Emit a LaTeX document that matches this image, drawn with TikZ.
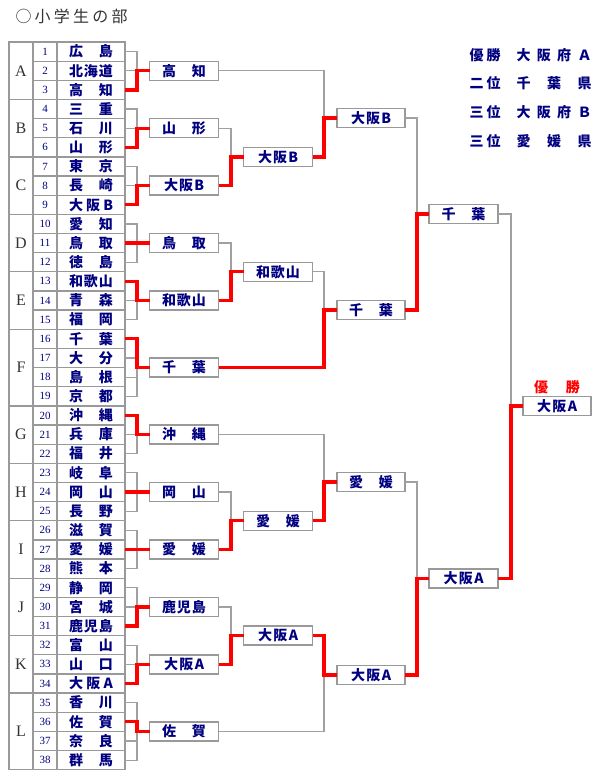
\documentclass[tikz,border=0pt]{standalone}
\usepackage{fontspec}
\setmainfont{Liberation Serif}
\newfontfamily\jp{Noto Sans CJK JP}
\usetikzlibrary{calc}
\definecolor{navy}{HTML}{000080}
\definecolor{cellgray}{HTML}{999999}
\definecolor{linkgray}{HTML}{A0A0A0}
\definecolor{winred}{HTML}{FF0000}
% spread the characters of a name over a fixed width
\newcommand{\nm}[2][44pt]{\makebox[#1][s]{#2}}

\begin{document}
\begin{tikzpicture}[x=1pt, y=-1pt,
    cell/.style={draw=cellgray, line width=1.3pt, inner sep=0pt, outer sep=0pt,
                 minimum height=19.15pt},
    team/.style={cell, minimum width=68pt, text=navy, font=\jp\bfseries\fontsize{14}{14}\selectfont},
    num/.style={cell, minimum width=24pt, text=navy, font=\fontsize{11}{11}\selectfont},
    grp/.style={cell, minimum width=24pt, text=black!80, font=\fontsize{16}{16}\selectfont},
    win/.style={draw=cellgray, line width=1.3pt, fill=white, inner sep=0pt, outer sep=0pt,
                minimum width=69pt, minimum height=19pt, text=navy,
                font=\jp\bfseries\fontsize{14}{14}\selectfont},
    res/.style={anchor=west, text=navy, font=\jp\bfseries\fontsize{14}{14}\selectfont},
    link/.style={draw=linkgray, line width=1.2pt},
    redlink/.style={draw=winred, line width=3.3pt},
  ]
  \useasboundingbox (0,0) rectangle (610,780);
  \fill[white] (0,0) rectangle (610,780);

  % junction columns of the bracket
  \coordinate (j1) at (137,0);
  \coordinate (j2) at (231,0);
  \coordinate (j3) at (324,0);
  \coordinate (j4) at (417,0);
  \coordinate (j5) at (511,0);

  \node[anchor=west, text=black!80, font=\jp\fontsize{16}{16}\selectfont] (title) at (12,16)
    {\nm[112pt]{○\hfil 小\hfil 学\hfil 生\hfil の\hfil 部}};

  % group letters and group winners
  \foreach \g/\a/\b/\w in {A/1/3/{\nm{高\hfil 知}}, B/4/6/{\nm{山\hfil 形}},
      C/7/9/{\nm[40pt]{大\hfil 阪\hfil B}}, D/10/12/{\nm{鳥\hfil 取}},
      E/13/15/{\nm{和\hfil 歌\hfil 山}}, F/16/19/{\nm{千\hfil 葉}},
      G/20/22/{\nm{沖\hfil 縄}}, H/23/25/{\nm{岡\hfil 山}}, I/26/28/{\nm{愛\hfil 媛}},
      J/29/31/{\nm{鹿\hfil 児\hfil 島}}, K/32/34/{\nm[40pt]{大\hfil 阪\hfil A}},
      L/35/38/{\nm{佐\hfil 賀}}} {
    \pgfmathsetmacro\gh{(\b-\a+1)*19.15}
    \pgfmathsetmacro\gy{42+(\a+\b-1)/2*19.15}
    \node[grp, minimum height=\gh pt] (grp\g) at (21,\gy) {\g};
    \node[win] (r1\g) at (184,\gy) {\w};
  }

  % entry table
  \foreach \i/\g/\n in {1/A/{広\hfil 島}, 2/A/{北\hfil 海\hfil 道}, 3/A/{高\hfil 知},
      4/B/{三\hfil 重}, 5/B/{石\hfil 川}, 6/B/{山\hfil 形},
      7/C/{東\hfil 京}, 8/C/{長\hfil 崎}, 9/C/{大\hfil 阪\hfil B},
      10/D/{愛\hfil 知}, 11/D/{鳥\hfil 取}, 12/D/{徳\hfil 島},
      13/E/{和\hfil 歌\hfil 山}, 14/E/{青\hfil 森}, 15/E/{福\hfil 岡},
      16/F/{千\hfil 葉}, 17/F/{大\hfil 分}, 18/F/{島\hfil 根}, 19/F/{京\hfil 都},
      20/G/{沖\hfil 縄}, 21/G/{兵\hfil 庫}, 22/G/{福\hfil 井},
      23/H/{岐\hfil 阜}, 24/H/{岡\hfil 山}, 25/H/{長\hfil 野},
      26/I/{滋\hfil 賀}, 27/I/{愛\hfil 媛}, 28/I/{熊\hfil 本},
      29/J/{静\hfil 岡}, 30/J/{宮\hfil 城}, 31/J/{鹿\hfil 児\hfil 島},
      32/K/{富\hfil 山}, 33/K/{山\hfil 口}, 34/K/{大\hfil 阪\hfil A},
      35/L/{香\hfil 川}, 36/L/{佐\hfil 賀}, 37/L/{奈\hfil 良}, 38/L/{群\hfil 馬}} {
    \node[num] (n\i) at (45,{42+(\i-0.5)*19.15}) {\i};
    \node[team] (t\i) at (91,{42+(\i-0.5)*19.15}) {\nm{\n}};
    \draw[link] (t\i.east) -- (t\i.east -| j1) |- (r1\g.west);
  }

  % later rounds
  \node[win] (bc) at (278,156.9) {\nm[40pt]{大\hfil 阪\hfil B}};
  \node[win] (de) at (278,271.8) {\nm{和\hfil 歌\hfil 山}};
  \node[win] (hi) at (278,520.7) {\nm{愛\hfil 媛}};
  \node[win] (jk) at (278,635.6) {\nm[40pt]{大\hfil 阪\hfil A}};
  \node[win, minimum width=68pt] (top1) at (371,118) {\nm[40pt]{大\hfil 阪\hfil B}};
  \node[win, minimum width=68pt] (top2) at (371,310) {\nm{千\hfil 葉}};
  \node[win, minimum width=68pt] (bot1) at (371,482) {\nm{愛\hfil 媛}};
  \node[win, minimum width=68pt] (bot2) at (371,675) {\nm[40pt]{大\hfil 阪\hfil A}};
  \node[win] (semiT) at (463.5,214) {\nm{千\hfil 葉}};
  \node[win] (semiB) at (463.5,578.5) {\nm[40pt]{大\hfil 阪\hfil A}};
  \node[win, minimum width=68pt] (champ) at (557,406) {\nm[40pt]{大\hfil 阪\hfil A}};
  \node[text=winred, font=\jp\bfseries\fontsize{14}{14}\selectfont] (champlabel) at (557,387)
    {\nm[46pt]{優\hfil 勝}};

  \foreach \a/\b/\j in {r1B/bc/j2, r1C/bc/j2, r1D/de/j2, r1E/de/j2, r1H/hi/j2, r1I/hi/j2,
      r1J/jk/j2, r1K/jk/j2, r1A/top1/j3, bc/top1/j3, de/top2/j3, r1F/top2/j3,
      r1G/bot1/j3, hi/bot1/j3, jk/bot2/j3, r1L/bot2/j3, top1/semiT/j4, top2/semiT/j4,
      bot1/semiB/j4, bot2/semiB/j4, semiT/champ/j5, semiB/champ/j5}
    \draw[link] (\a.east) -- (\a.east -| \j) |- (\b.west);

  % winners' path in red
  \foreach \i/\g in {3/A, 6/B, 9/C, 11/D, 13/E, 16/F, 20/G, 24/H, 27/I, 31/J, 34/K, 36/L}
    \draw[redlink] (t\i.east) -- (t\i.east -| j1) |- (r1\g.west);
  \foreach \a/\b/\j in {r1C/bc/j2, r1E/de/j2, r1I/hi/j2, r1K/jk/j2, bc/top1/j3,
      r1F/top2/j3, hi/bot1/j3, jk/bot2/j3, top2/semiT/j4, bot2/semiB/j4, semiB/champ/j5}
    \draw[redlink] (\a.east) -- (\a.east -| \j) |- (\b.west);

  % final standings
  \node[res] (p1) at (466,55) {\nm[31pt]{優\hfil 勝}};
  \node[res] (w1) at (513,55) {\nm[75pt]{大\hfil 阪\hfil 府\hfil Ａ}};
  \node[res] (p2) at (466,83.5) {\nm[31pt]{二\hfil 位}};
  \node[res] (w2) at (513,83.5) {\nm[75pt]{千\hfil 葉\hfil 県}};
  \node[res] (p3) at (466,112.5) {\nm[31pt]{三\hfil 位}};
  \node[res] (w3) at (513,112.5) {\nm[75pt]{大\hfil 阪\hfil 府\hfil Ｂ}};
  \node[res] (p4) at (466,141.5) {\nm[31pt]{三\hfil 位}};
  \node[res] (w4) at (513,141.5) {\nm[75pt]{愛\hfil 媛\hfil 県}};
\end{tikzpicture}
\end{document}
